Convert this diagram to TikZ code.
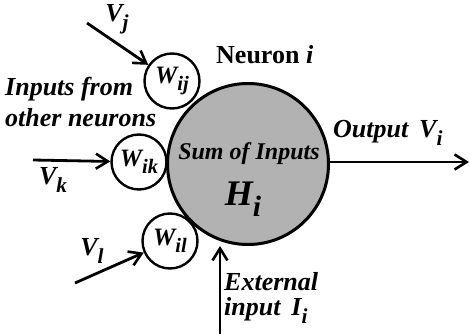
\documentclass[tikz,border=0pt]{standalone}
\usepackage{fontspec}
\setmainfont{Liberation Serif}
\usetikzlibrary{arrows.meta}
\newcommand{\lowsub}[1]{\raisebox{-0.3em}{\fontsize{0.82em}{1em}\selectfont #1}}
\begin{document}
\begin{tikzpicture}[x=1pt,y=-1pt,
  lbl/.style={font=\bfseries\itshape\fontsize{26}{27}\selectfont, inner sep=0pt},
  wcirc/.style={circle, draw, line width=2.4pt, minimum size=55pt, inner sep=0pt, font=\bfseries\itshape\fontsize{25}{26}\selectfont},
  arr/.style={line width=2.8pt, -{Straight Barb[length=12pt,width=15pt,line width=2.6pt]}}
]
\useasboundingbox (0,0) rectangle (470,334);
\node[circle, draw, line width=3pt, fill=black!30, minimum size=161pt, inner sep=0pt] (N) at (248,164) {};
\node[wcirc] (Wij) at (172,81) {W\lowsub{ij}};
\node[wcirc] (Wik) at (139,162) {W\lowsub{ik}};
\node[wcirc] (Wil) at (170,241) {W\lowsub{il}};
\node[lbl] (sum) at (249,154) {\fontsize{24}{25}\selectfont Sum of Inputs};
\node[lbl] (H) at (243,199) {\fontsize{36}{36}\selectfont H\lowsub{i}};
\node[lbl, anchor=west] (neur) at (216,55) {\upshape Neuron \itshape i};
\node[lbl, align=left, anchor=north west, font=\bfseries\itshape\fontsize{26}{31}\selectfont] (inp) at (5,77) {Inputs from\\other neurons};
\node[lbl] (vj) at (117,19) {V\lowsub{j}};
\node[lbl] (vk) at (53,180) {V\lowsub{k}};
\node[lbl] (vl) at (92,251) {V\lowsub{l}};
\node[lbl, anchor=west] (out) at (333,133) {Output\, V\lowsub{i}};
\node[lbl, align=left, anchor=north west, font=\bfseries\itshape\fontsize{26}{25}\selectfont] (ext) at (224,272) {External\\input\, I\lowsub{i}};
\coordinate (sj) at (87,23);
\coordinate (sk) at (33,160);
\coordinate (sl) at (75,283);
\coordinate (se) at (220,334);
\coordinate (oe) at (469,162);
\draw[arr] (sj) -- (Wij);
\draw[arr] (sk) -- (Wik);
\draw[arr] (sl) -- (Wil);
\draw[arr] (se) -- (se |- N.south);
\draw[arr] (N.east |- oe) -- (oe);
\end{tikzpicture}
\end{document}
